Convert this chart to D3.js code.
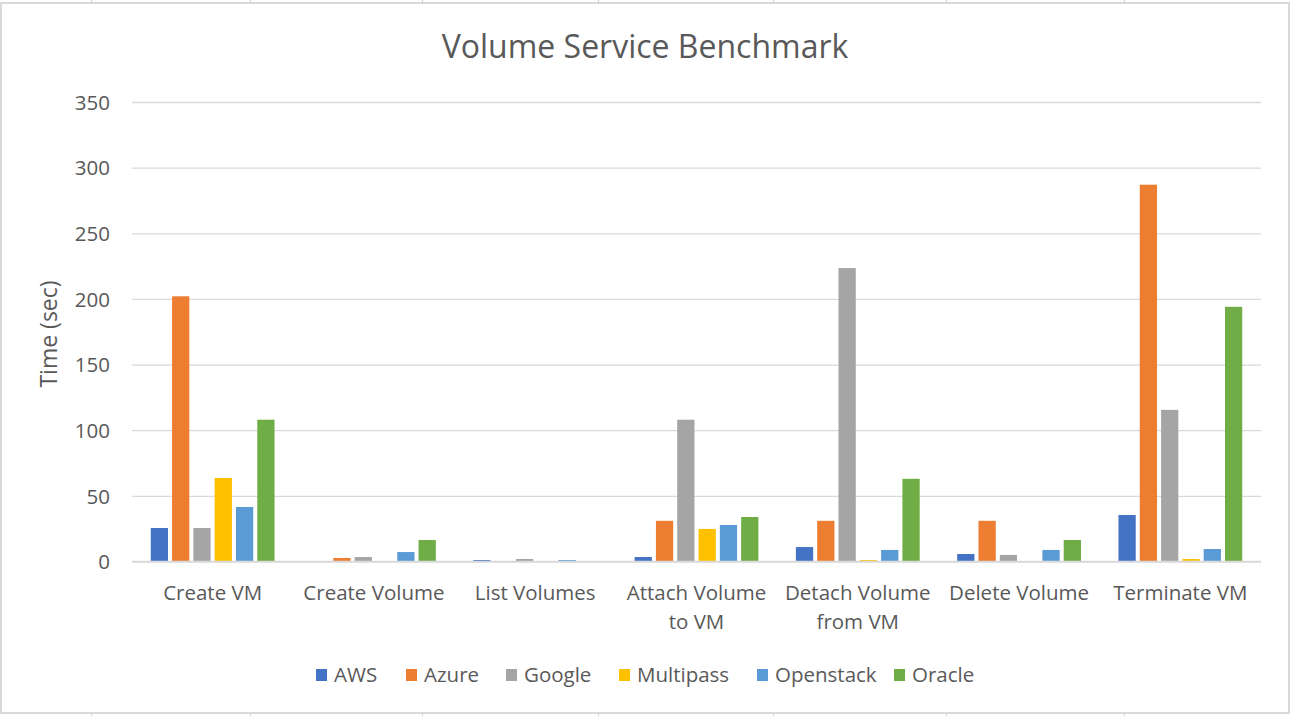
<!DOCTYPE html>
<html><head><meta charset="utf-8">
<script src="https://cdn.jsdelivr.net/npm/d3@7"></script>
<style>body{margin:0;background:#fff}svg{display:block}</style>
</head><body><svg id="c" width="1292" height="716"></svg>
<script>
const categories = [["Create VM"],["Create Volume"],["List Volumes"],["Attach Volume","to VM"],["Detach Volume","from VM"],["Delete Volume"],["Terminate VM"]];
const seriesNames = ["AWS","Azure","Google","Multipass","Openstack","Oracle"];
const seriesColors = ["#4472c4","#ed7d31","#a5a5a5","#ffc000","#5b9bd5","#70ad47"];
const AWS       = [25.5, 0,   1.1, 3.4,  11,   5.7, 35.4];
const Azure     = [202,  2.7, 0,   31,   31,   31,  287];
const Google    = [25.5, 3.4, 1.9, 108,  223.5,5,   115.5];
const Multipass = [63.6, 0,   0,   24.8, 1.1,  0,   1.9];
const Openstack = [41.5, 7.2, 1.1, 27.8, 8.8,  8.8, 9.5];
const Oracle    = [108,  16.4,0,   33.9, 63,   16.4,194];
const yTicks = [0,50,100,150,200,250,300,350];
const seriesValues = [AWS,Azure,Google,Multipass,Openstack,Oracle];

const svg = d3.select("#c");
const font = "'Open Sans', 'Noto Sans', sans-serif";
const txt = "#595959";
const fs = "20.5px";

// spreadsheet cell lines peeking out
[91,250,422,598,773,946,1124].forEach(x=>{
  svg.append("line").attr("x1",x+0.5).attr("x2",x+0.5).attr("y1",0).attr("y2",3).attr("stroke","#d0d0d0");
  svg.append("line").attr("x1",x+0.5).attr("x2",x+0.5).attr("y1",713).attr("y2",716).attr("stroke","#d0d0d0");
});
svg.append("rect").attr("x",1).attr("y",3).attr("width",1288).attr("height",710)
  .attr("fill","#fff").attr("stroke","#d9d9d9").attr("stroke-width",2);

const x0 = d3.scaleBand().domain(d3.range(categories.length)).range([132,1261]).paddingInner(0).paddingOuter(0);
const x1 = d3.scaleBand().domain(d3.range(seriesNames.length)).range([0,x0.bandwidth()]).paddingInner(0.19).paddingOuter(0.88);
const y = d3.scaleLinear().domain([0,350]).range([561.5,102]);

// grid
const ga = svg.append("g").attr("transform","translate(132,0)")
  .call(d3.axisLeft(y).tickValues(yTicks).tickSize(-(1261-132)).tickFormat(""));
ga.select(".domain").remove();
ga.selectAll(".tick line").attr("stroke","#d9d9d9").attr("stroke-width",1.3);

// y tick labels
const yl = svg.append("g").attr("transform","translate(110,0)")
  .call(d3.axisLeft(y).tickValues(yTicks).tickSize(0).tickPadding(0));
yl.select(".domain").remove();
yl.selectAll("text").attr("fill",txt).style("font-family",font).style("font-size",fs).attr("dy","0.35em");

// bars
categories.forEach((c,i)=>{
  seriesValues.forEach((vals,s)=>{
    const v = vals[i];
    if(v<=0) return;
    svg.append("rect").attr("x",x0(i)+x1(s)).attr("width",x1.bandwidth())
      .attr("y",y(v)).attr("height",y(0)-y(v)).attr("fill",seriesColors[s]);
  });
});
// baseline
svg.append("line").attr("x1",132).attr("x2",1261).attr("y1",y(0)).attr("y2",y(0)).attr("stroke","#d9d9d9").attr("stroke-width",1.5);

// x labels
const xa = svg.append("g");
categories.forEach((c,i)=>{
  const t = xa.append("text").attr("x",x0(i)+x0.bandwidth()/2).attr("y",600)
    .attr("text-anchor","middle").attr("fill",txt).style("font-family",font).style("font-size",fs);
  c.forEach((line,k)=>t.append("tspan").attr("x",x0(i)+x0.bandwidth()/2).attr("dy",k?29:0).text(line));
});

// title
svg.append("text").attr("x",645).attr("y",58).attr("text-anchor","middle").attr("fill",txt)
  .style("font-family",font).style("font-size","32px").text("Volume Service Benchmark");
// y title
svg.append("text").attr("transform","translate(57,334) rotate(-90)").attr("text-anchor","middle").attr("fill",txt)
  .style("font-family",font).style("font-size","23px").text("Time (sec)");

// legend
const legX = [316,406,506,619,757,894];
seriesNames.forEach((n,s)=>{
  svg.append("rect").attr("x",legX[s]).attr("y",669).attr("width",11).attr("height",12).attr("fill",seriesColors[s]);
  svg.append("text").attr("x",legX[s]+18).attr("y",675).attr("dy","0.35em").attr("fill",txt)
    .style("font-family",font).style("font-size",fs).text(n);
});
</script></body></html>
